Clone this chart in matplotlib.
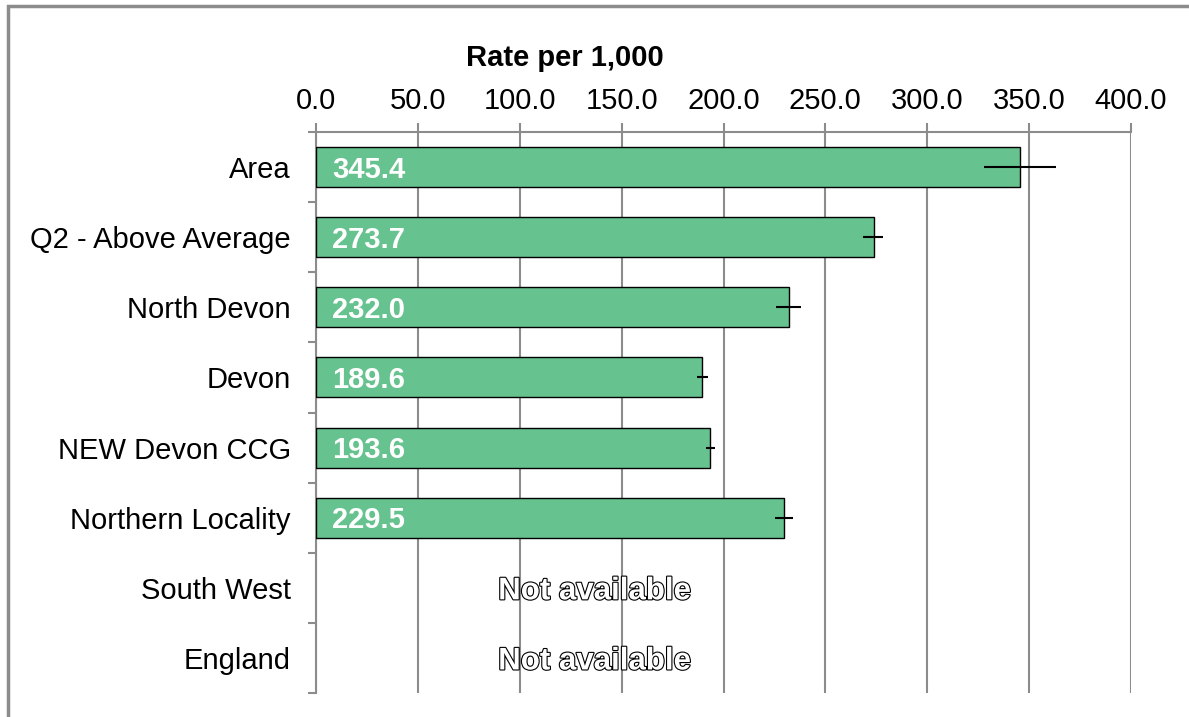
import matplotlib
matplotlib.use("Agg")
import matplotlib.pyplot as plt
import matplotlib.patheffects as pe
from matplotlib.patches import Rectangle
import matplotlib.transforms as mtransforms
import numpy as np

plt.rcParams['font.family'] = ['Liberation Sans', 'DejaVu Sans']

# data
categories = ["Area", "Q2 - Above Average", "North Devon", "Devon",
              "NEW Devon CCG", "Northern Locality", "South West", "England"]
rates = [345.4, 273.7, 232.0, 189.6, 193.6, 229.5, None, None]
lower_ci = [327.9, 268.5, 225.8, 187.0, 191.4, 225.3, None, None]
upper_ci = [363.2, 278.3, 238.0, 192.4, 195.8, 234.1, None, None]
x_ticks = [0, 50, 100, 150, 200, 250, 300, 350, 400]

bar_color = "#66C28E"
grey = "#8c8c8c"

fig = plt.figure(figsize=(11.89, 7.17), dpi=100)
ax = fig.add_axes([316 / 1189, 1 - 693 / 717, 815 / 1189, 561 / 717])

ypos = np.arange(len(categories))
for i, r in enumerate(rates):
    if r is None:
        # no data: outlined label centred on the figure
        trans = mtransforms.blended_transform_factory(fig.transFigure, ax.transData)
        ax.text(0.5, i + 0.05, "Not available", transform=trans, ha="center", va="center",
                fontsize=22.5, fontweight="bold", color="white",
                path_effects=[pe.withStroke(linewidth=1.6, foreground="black")])
        continue
    ax.barh(i, r, height=0.57, color=bar_color, edgecolor="black", linewidth=1, zorder=3)
    ax.errorbar(r, i, xerr=[[r - lower_ci[i]], [upper_ci[i] - r]], fmt="none",
                ecolor="black", elinewidth=1.5, capsize=0, zorder=4)
    ax.annotate("%.1f" % r, xy=(0, i), xytext=(11.5, -2), textcoords="offset points",
                ha="left", va="center", fontsize=21, fontweight="bold", color="white", zorder=5)

ax.set_xlim(0, 400)
ax.set_ylim(len(categories) - 0.5, -0.5)

ax.xaxis.tick_top()
ax.set_xticks(x_ticks)
ax.set_xticklabels(["%.1f" % v for v in x_ticks], fontsize=21)
ax.tick_params(axis="x", direction="out", length=6.5, width=1.5, color=grey, pad=6)

ax.set_yticks(ypos)
ax.set_yticklabels(categories, fontsize=21)
ax.set_yticks(np.arange(len(categories) + 1) - 0.5, minor=True)
ax.tick_params(axis="y", which="major", length=0, pad=18)
ax.tick_params(axis="y", which="minor", direction="out", length=6, width=1.5, color=grey)

ax.grid(axis="x", color=grey, linewidth=1.5, zorder=0)
ax.set_axisbelow(True)
for side in ["right", "bottom"]:
    ax.spines[side].set_visible(False)
for side in ["left", "top"]:
    ax.spines[side].set_color(grey)
    ax.spines[side].set_linewidth(1.5)

fig.text(565 / 1189, 1 - 58 / 717, "Rate per 1,000", ha="center", va="center",
         fontsize=21, fontweight="bold")

# outer chart frame, cut off at the right and bottom
fig.patches.append(Rectangle((8 / 1189, -0.2), 2.0, 0.2 + 1 - 6 / 717, transform=fig.transFigure,
                             fill=False, edgecolor=grey, linewidth=2.5))

fig.savefig("out.png", dpi=100)
